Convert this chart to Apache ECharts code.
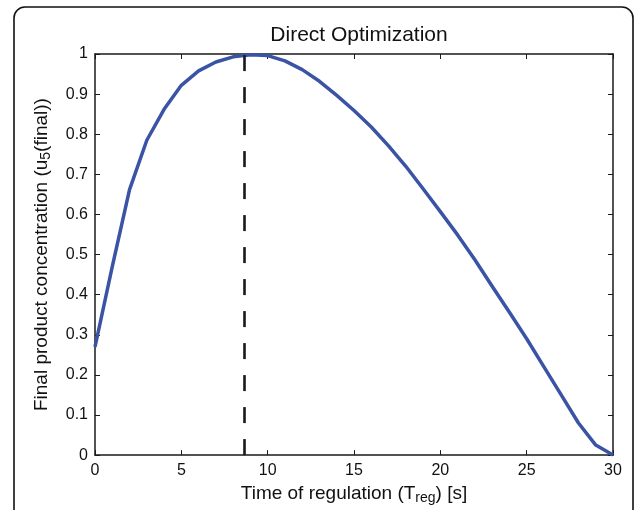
<!DOCTYPE html>
<html>
<head>
<meta charset="utf-8">
<script src="https://cdn.jsdelivr.net/npm/echarts@6/dist/echarts.min.js"></script>
<style>
html,body{margin:0;padding:0;background:#fff;}
#chart{width:636px;height:510px;}
</style>
</head>
<body>
<div id="chart"></div>
<script>
const titleText = 'Direct Optimization';
const timeValues = [0,1,2,3,4,5,6,7,8,9,10,11,12,13,14,15,16,17,18,19,20,21,22,23,24,25,26,27,28,29,30];
const concentration = [0.27,0.47,0.662,0.785,0.862,0.922,0.958,0.98,0.993,0.998,0.996,0.983,0.961,0.932,0.897,0.859,0.818,0.771,0.72,0.664,0.607,0.549,0.487,0.421,0.356,0.29,0.22,0.15,0.08,0.025,0];
const optimumTime = 8.63;
const xTicks = [0,5,10,15,20,25,30];
const yTicks = [0,0.1,0.2,0.3,0.4,0.5,0.6,0.7,0.8,0.9,1];

const FONT = '"Liberation Sans", Arial, Helvetica, sans-serif';
const axisColor = '#1a1a1a';
const chart = echarts.init(document.getElementById('chart'), null, {renderer:'canvas'});

const xBase = {
  type:'value', min: xTicks[0], max: xTicks[xTicks.length-1], interval: xTicks[1]-xTicks[0],
  splitLine:{show:false},
  axisLine:{show:true, onZero:false, lineStyle:{color:axisColor, width:1.5}},
  axisTick:{show:true, inside:true, length:5, lineStyle:{color:axisColor, width:1}}
};
const yBase = {
  type:'value', min: yTicks[0], max: yTicks[yTicks.length-1], interval: 0.1,
  splitLine:{show:false},
  axisLine:{show:true, onZero:false, lineStyle:{color:axisColor, width:1.5}},
  axisTick:{show:true, inside:true, length:5, lineStyle:{color:axisColor, width:1}}
};

chart.setOption({
  animation:false,
  backgroundColor:'#fff',
  title:{
    text:titleText, left:354, top:20, textAlign:'center',
    textStyle:{fontFamily:FONT, fontSize:21, fontWeight:'normal', color:'#111'}
  },
  graphic:[{
    type:'rect', silent:true,
    shape:{x:14, y:7, width:619, height:540, r:11},
    style:{fill:'none', stroke:'#111', lineWidth:1.6}
  }],
  grid:{left:95, right:23, top:54, bottom:51, show:false},
  xAxis:[
    Object.assign({}, xBase, {
      position:'bottom',
      name:'Time of regulation (T{sub|reg}) [s]',
      nameLocation:'middle', nameGap:26,
      nameTextStyle:{fontFamily:FONT, fontSize:19, color:'#111', lineHeight:22,
        rich:{sub:{fontFamily:FONT, fontSize:14, color:'#111', verticalAlign:'bottom', lineHeight:14}}},
      axisLabel:{show:true, margin:7, fontFamily:FONT, fontSize:16, color:'#111',
        formatter:function(v){return String(v);}}
    }),
    Object.assign({}, xBase, {position:'top', axisLabel:{show:false}})
  ],
  yAxis:[
    Object.assign({}, yBase, {
      position:'left',
      name:'Final product concentration (u{sub|5}(final))',
      nameLocation:'middle', nameGap:42,
      nameTextStyle:{fontFamily:FONT, fontSize:19, color:'#111', lineHeight:22,
        rich:{sub:{fontFamily:FONT, fontSize:14, color:'#111', verticalAlign:'bottom', lineHeight:14}}},
      axisLabel:{show:true, margin:7, fontFamily:FONT, fontSize:16, color:'#111',
        formatter:function(v){return String(Math.round(v*10)/10);}}
    }),
    Object.assign({}, yBase, {position:'right', axisLabel:{show:false}})
  ],
  series:[{
    type:'line',
    data: timeValues.map(function(t,i){return [t, concentration[i]];}),
    showSymbol:false, symbol:'none', smooth:false,
    lineStyle:{color:'#3a53a4', width:3.5, join:'round'},
    itemStyle:{color:'#3a53a4'},
    clip:false,
    markLine:{
      silent:true, symbol:['none','none'], label:{show:false},
      lineStyle:{color:'#1a1a1a', type:[16,16], width:2.6},
      data:[[{coord:[optimumTime, 0]},{coord:[optimumTime, 1]}]]
    },
    z:3
  }]
});
</script>
</body>
</html>
